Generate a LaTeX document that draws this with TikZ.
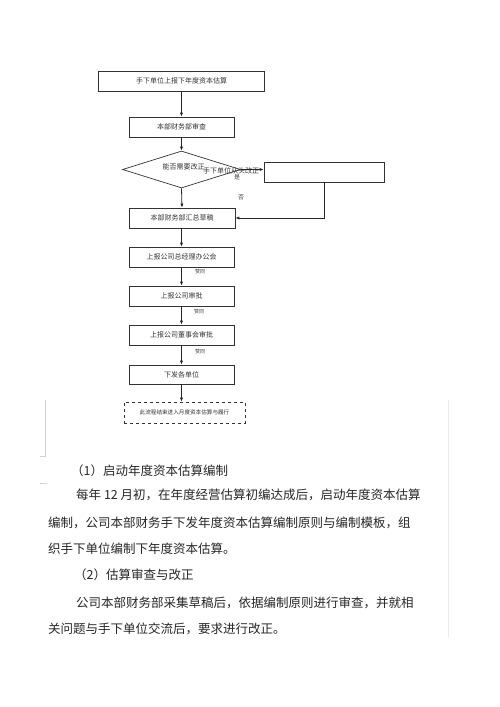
\documentclass[tikz,border=0pt]{standalone}
\usepackage{fontspec}
\newfontfamily\cjk{Noto Sans CJK SC}
\usetikzlibrary{shapes.geometric,arrows.meta}
\begin{document}
\begin{tikzpicture}[x=1pt,y=-1pt,
  flowbox/.style={draw=black!80,line width=0.7pt,inner sep=0pt,minimum height=20pt,font=\cjk\fontsize{7}{8}\selectfont,text=black!80},
  arr/.style={draw=black!85,line width=0.8pt,-{Latex[length=4pt,width=3.2pt]}},
  lbl/.style={inner sep=0pt,font=\cjk\fontsize{5}{6}\selectfont,text=black!75},
  body/.style={inner sep=0pt,anchor=west,font=\cjk\fontsize{12.5}{14}\selectfont,text=black!85}]
\useasboundingbox[fill=white] (0,0) rectangle (500,707);
% flowchart
\node[flowbox,minimum width=166pt] (b1) at (181.5,81) {手下单位上报下年度资本估算};
\node[flowbox,minimum width=105pt] (b2) at (181.5,127) {本部财务部审查};
\node[draw=black!80,line width=0.7pt,diamond,inner sep=0pt,minimum width=118pt,minimum height=37pt] (dm) at (181.5,169.5) {};
\node[flowbox,minimum width=120pt] (rb) at (324,172) {};
\node[flowbox,minimum width=106pt] (b3) at (182,218) {本部财务部汇总草稿};
\node[flowbox,minimum width=105pt] (b4) at (181.5,257) {上报公司总经理办公会};
\node[flowbox,minimum width=105pt] (b5) at (181.5,296) {上报公司审批};
\node[flowbox,minimum width=105pt] (b6) at (181.5,335) {上报公司董事会审批};
\node[flowbox,minimum width=105pt,minimum height=19pt] (b7) at (181.5,374.5) {下发各单位};
\node[flowbox,dashed,minimum width=121pt,minimum height=21pt,font=\cjk\fontsize{5.6}{6.5}\selectfont] (end) at (184.5,412.5) {此流程结束进入月度资本估算与履行};
% texts in diamond
\node[inner sep=0pt,font=\cjk\fontsize{7}{8}\selectfont,text=black!80] (q) at (183.5,167) {能否需要改正};
\node[inner sep=0pt,font=\cjk\fontsize{7}{8}\selectfont,text=black!80] (q2) at (231,170.5) {手下单位从头改正};
\node[lbl,font=\cjk\fontsize{6}{7}\selectfont] (yes) at (237,177.5) {是};
\node[lbl,font=\cjk\fontsize{6}{7}\selectfont] (no) at (241,197) {否};
\node[lbl] (a1) at (200,272) {赞同};
\node[lbl] (a2) at (199,312) {赞同};
\node[lbl] (a3) at (200,352) {赞同};
% connectors
\draw[arr] (b1.south) -- (b2.north);
\draw[arr] (b2.south) -- (dm.north);
\draw[arr] (dm.east) -- (dm.east -| rb.west);
\draw[arr] (dm.south) -- (b3.south |- b3.north);
\draw[arr] (rb.south) |- (b3.east);
\draw[arr] (b3.south -| b4.south) -- (b4.north);
\draw[arr] (b4.south) -- (b5.north);
\draw[arr] (b5.south) -- (b6.north);
\draw[arr] (b6.south) -- (b7.north);
\draw[arr] (b7.south) -- (b7.south |- end.north);
% page marks
\draw[gray!35,line width=0.6pt] (45,400) -- (45,456) -- (40,456);
\draw[gray!35,line width=0.6pt] (40,483) -- (47,483);
\draw[gray!15,line width=0.6pt] (448,400) -- (448,638);
% body text
\node[body] (h1) at (71,471) {（1）启动年度资本估算编制};
\node[body] (l1) at (76,495) {每年 12 月初，在年度经营估算初编达成后，启动年度资本估算};
\node[body] (l2) at (48,523) {编制，公司本部财务手下发年度资本估算编制原则与编制模板，组};
\node[body] (l3) at (48,549) {织手下单位编制下年度资本估算。};
\node[body] (h2) at (74,575) {（2）估算审查与改正};
\node[body] (l4) at (76,603) {公司本部财务部采集草稿后，依据编制原则进行审查，并就相};
\node[body] (l5) at (48,629) {关问题与手下单位交流后，要求进行改正。};
\end{tikzpicture}
\end{document}
